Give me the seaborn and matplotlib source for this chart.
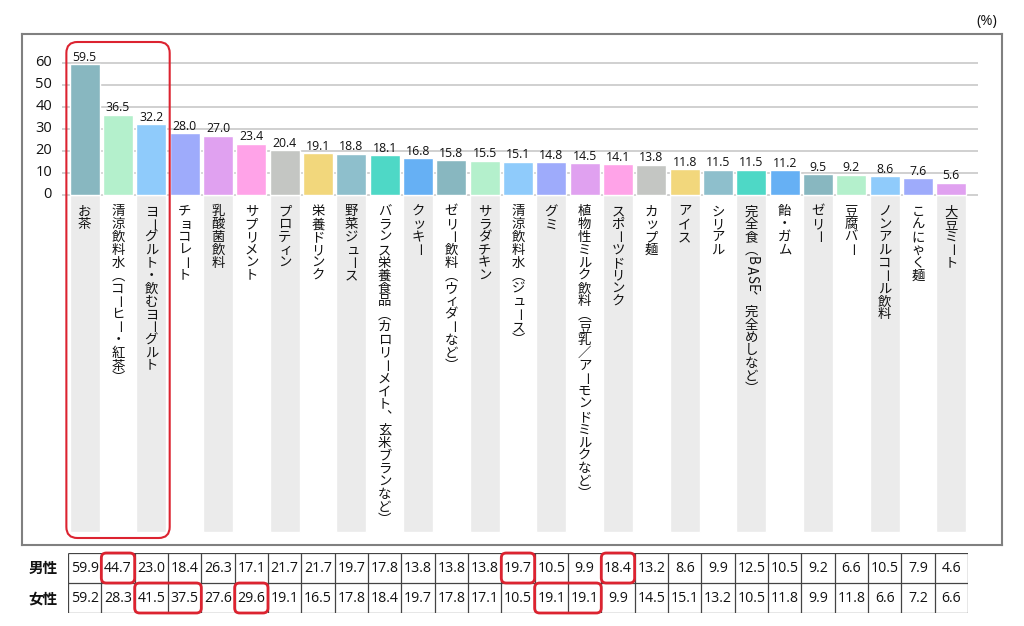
import matplotlib
matplotlib.use("Agg")
import numpy as np
import pandas as pd
import matplotlib.pyplot as plt
import seaborn as sns
from matplotlib.patches import FancyBboxPatch

# datos del grafico
categorias = [
    "お茶", "清涼飲料水（コーヒー・紅茶）", "ヨーグルト・飲むヨーグルト", "チョコレート",
    "乳酸菌飲料", "サプリメント", "プロティン", "栄養ドリンク", "野菜ジュース",
    "バランス栄養食品（カロリーメイト、玄米ブランなど）", "クッキー", "ゼリー飲料（ウィダーなど）",
    "サラダチキン", "清涼飲料水（ジュース）", "グミ", "植物性ミルク飲料（豆乳／アーモンドミルクなど）",
    "スポーツドリンク", "カップ麺", "アイス", "シリアル", "完全食（BASE、完全めしなど）",
    "飴・ガム", "ゼリー", "豆腐バー", "ノンアルコール飲料", "こんにゃく麺", "大豆ミート",
]
total = [59.5, 36.5, 32.2, 28.0, 27.0, 23.4, 20.4, 19.1, 18.8, 18.1, 16.8, 15.8, 15.5, 15.1,
         14.8, 14.5, 14.1, 13.8, 11.8, 11.5, 11.5, 11.2, 9.5, 9.2, 8.6, 7.6, 5.6]
hombres = [59.9, 44.7, 23.0, 18.4, 26.3, 17.1, 21.7, 21.7, 19.7, 17.8, 13.8, 13.8, 13.8, 19.7,
           10.5, 9.9, 18.4, 13.2, 8.6, 9.9, 12.5, 10.5, 9.2, 6.6, 10.5, 7.9, 4.6]
mujeres = [59.2, 28.3, 41.5, 37.5, 27.6, 29.6, 19.1, 16.5, 17.8, 18.4, 19.7, 17.8, 17.1, 10.5,
           19.1, 19.1, 9.9, 14.5, 15.1, 13.2, 10.5, 11.8, 9.9, 11.8, 6.6, 7.2, 6.6]
filas = ["男性", "女性"]
ticks_y = [0, 10, 20, 30, 40, 50, 60]
colores_ciclo = ["#88b7c0", "#b4f0cc", "#8fcbfb", "#9eabfb", "#e0a1f0", "#ffa3e8",
                 "#c4c6c3", "#f2d77c", "#8ebfcc", "#4ed8c6", "#66b0f4"]
resaltar_hombres = [(1, 1), (13, 13), (16, 16)]
resaltar_mujeres = [(2, 3), (5, 5), (14, 15)]
resaltar_barras = (0, 2)

W, H = 1024, 626
X0, PASO = 84.7, 33.33      # centro de la primera barra y separacion (px)
Y0, PXU = 195, 2.2          # linea de cero (px) y px por unidad
ROJO = "#dc2330"
FUENTE_JP = ["Noto Sans CJK JP", "DejaVu Sans"]
# formas verticales para escritura tategaki
VERTICAL = {"（": "\ufe35", "）": "\ufe36", "、": "\ufe11"}
ROTAR = set("ー")
PEQUENAS = set("ッィョュャァ")


def dx(px):
    return (px - X0) / PASO


def dy(py):
    return (Y0 - py) / PXU


def caja_redondeada(fig, x0, y0, x1, y1, radio, lw):
    # caja en pixeles (origen arriba a la izquierda)
    caja = FancyBboxPatch((x0 / 100, (H - y1) / 100), (x1 - x0) / 100, (y1 - y0) / 100,
                          boxstyle=f"round,pad=0,rounding_size={radio / 100}",
                          transform=fig.dpi_scale_trans, fill=False, edgecolor=ROJO,
                          linewidth=lw, zorder=10)
    fig.add_artist(caja)


def etiqueta_vertical(ax, i, texto, arriba=205.0, paso=12.85):
    y = arriba
    for ch in texto:
        latino = ch.isascii() and ch.isalpha()
        avance = paso * 0.7 if latino else paso
        cx, cy = X0 + i * PASO, y + avance / 2
        rot = -90 if (latino or ch in ROTAR) else 0
        if ch in PEQUENAS:
            cx += 1.2
        ax.text(dx(cx), dy(cy), VERTICAL.get(ch, ch), ha="center", va="center", rotation=rot,
                rotation_mode="anchor", fontsize=9.6, family=FUENTE_JP, color="#111111")
        y += avance


def main():
    sns.set_style("white")
    plt.rcParams["font.family"] = ["Open Sans", "Noto Sans CJK JP", "DejaVu Sans"]

    fig = plt.figure(figsize=(W / 100, H / 100), dpi=100)
    ax = fig.add_axes([22 / W, 1 - 545 / H, 980 / W, 511 / H])

    n = len(categorias)
    colores = [colores_ciclo[i % len(colores_ciclo)] for i in range(n)]
    df = pd.DataFrame({"cat": categorias, "val": total})
    sns.barplot(data=df, x="cat", y="val", hue="cat", palette=colores, width=0.9,
                saturation=1, legend=False, ax=ax, zorder=2)

    # franjas grises detras de las etiquetas
    idx_franja = np.arange(0, n, 2)
    ax.bar(idx_franja, dy(532), width=0.9, color="#ebebeb", zorder=0.5)

    ax.hlines(ticks_y, dx(62), dx(978), color="#c8c8c8", lw=1.2, zorder=0.8)
    for t in ticks_y:
        ax.text(dx(52), t, str(t), ha="right", va="center", fontsize=10.5, color="#111111")

    for i, v in enumerate(total):
        ax.text(i, v + 0.2, f"{v:.1f}", ha="center", va="bottom", fontsize=8.8, color="#111111")

    for i, c in enumerate(categorias):
        etiqueta_vertical(ax, i, c)

    ax.set_xlim(dx(22), dx(1002))
    ax.set_ylim(dy(545), dy(34))
    ax.set_xticks([])
    ax.set_yticks([])
    ax.set_xlabel("")
    ax.set_ylabel("")
    for s in ax.spines.values():
        s.set_visible(True)
        s.set_color("#808080")
        s.set_linewidth(1.5)

    fig.text(997 / W, 1 - 21 / H, "(%)", ha="right", va="center", fontsize=10.5, color="#111111")

    # tabla de hombres / mujeres
    axt = fig.add_axes([68 / W, 1 - 613 / H, 900 / W, 60 / H])
    axt.set_xlim(-0.5, n - 0.5)
    axt.set_ylim(2, 0)
    axt.axis("off")
    axt.hlines([0, 1, 2], -0.5, n - 0.5, color="#444444", lw=0.9)
    axt.vlines(np.arange(n + 1) - 0.5, 0, 2, color="#444444", lw=0.9)
    for r, serie in enumerate([hombres, mujeres]):
        axt.text(-0.8, r + 0.5, filas[r], ha="right", va="center", fontsize=10.5,
                 family=FUENTE_JP, weight="bold", color="#111111", clip_on=False)
        for i, v in enumerate(serie):
            axt.text(i, r + 0.5, f"{v:.1f}", ha="center", va="center", fontsize=10.2,
                     color="#111111")

    x_celda = lambda i: 68 + i * PASO
    for r, grupos in enumerate([resaltar_hombres, resaltar_mujeres]):
        for a, b in grupos:
            caja_redondeada(fig, x_celda(a), 553 + r * 30, x_celda(b + 1), 583 + r * 30, 5, 2)

    a, b = resaltar_barras
    caja_redondeada(fig, X0 + (a - 0.55) * PASO, 42, X0 + (b + 0.55) * PASO, 538, 11, 1.5)

    fig.savefig("out.png", dpi=100)
    plt.close(fig)


if __name__ == "__main__":
    main()
